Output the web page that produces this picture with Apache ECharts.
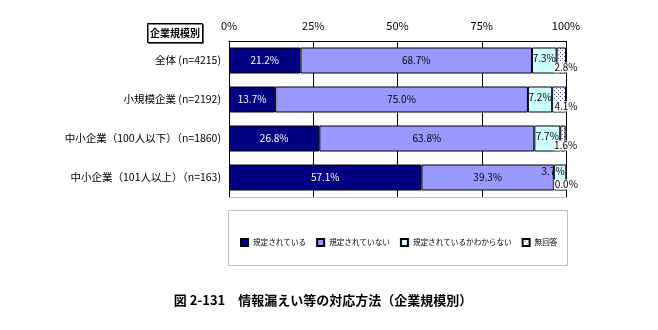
<!DOCTYPE html>
<html><head><meta charset="utf-8">
<script src="https://cdn.jsdelivr.net/npm/echarts@6/dist/echarts.min.js"></script>
<style>html,body{margin:0;padding:0;background:#fff}#c{width:658px;height:330px}</style>
</head><body><div id="c"></div>
<script>
const categories = ['全体 (n=4215)', '小規模企業 (n=2192)', '中小企業（100人以下）（n=1860)', '中小企業（101人以上）（n=163)'];
const seriesNames = ['規定されている', '規定されていない', '規定されているかわからない', '無回答'];
const s1 = [21.2, 13.7, 26.8, 57.1];
const s2 = [68.7, 75.0, 63.8, 39.3];
const s3 = [7.3, 7.2, 7.7, 3.7];
const s4 = [2.8, 4.1, 1.6, 0.0];
const tickValues = [0, 25, 50, 75, 100];

const FONT = '"Noto Sans CJK JP", sans-serif';
const cv = document.createElement('canvas');
cv.width = 4; cv.height = 4;
const cx = cv.getContext('2d');
cx.fillStyle = '#ffffff'; cx.fillRect(0, 0, 4, 4);
cx.fillStyle = '#5555aa'; cx.fillRect(0, 0, 1, 1); cx.fillRect(2, 2, 1, 1);
const pattern = { image: cv, repeat: 'repeat' };

const totals = s1.map((v, i) => +(v + s2[i] + s3[i] + s4[i]).toFixed(1));
const fmt = p => p.value.toFixed(1) + '%';
const chart = echarts.init(document.getElementById('c'), null, { renderer: 'canvas' });
const barBase = { type: 'bar', stack: 'total', barWidth: 26 };
chart.setOption({
  backgroundColor: '#fff',
  animation: false,
  textStyle: { fontFamily: FONT },
  grid: { left: 229, right: 92, top: 41, height: 156 },
  xAxis: [{
    type: 'value', position: 'top', min: 0, max: 100, interval: 25,
    axisLine: { show: true, lineStyle: { color: '#000', width: 1 } },
    axisTick: { show: false },
    axisLabel: { formatter: v => tickValues.includes(v) ? v + '%' : '', color: '#000', fontSize: 11, margin: 10, fontFamily: FONT },
    splitLine: { show: true, lineStyle: { color: '#000', width: 1 } }
  }, {
    type: 'value', position: 'bottom', min: 0, max: 100,
    axisLine: { show: true, lineStyle: { color: '#c0c0c0', width: 1 } },
    axisTick: { show: false }, axisLabel: { show: false }, splitLine: { show: false }
  }],
  yAxis: {
    type: 'category', data: categories, inverse: true,
    axisLine: { show: true, lineStyle: { color: '#000', width: 1 } },
    axisTick: { show: false },
    axisLabel: { color: '#000', fontSize: 10.5, margin: 8, fontFamily: FONT }
  },
  legend: {
    left: 235, top: 233, itemWidth: 7, itemHeight: 7, itemGap: 10, icon: 'rect',
    textStyle: { fontSize: 7.6, color: '#000', fontFamily: FONT },
    data: seriesNames
  },
  series: [
    Object.assign({}, barBase, {
      name: seriesNames[0], data: s1,
      itemStyle: { color: '#000080', borderColor: '#000', borderWidth: 1 },
      label: { show: true, position: 'inside', color: '#fff', fontSize: 10, formatter: fmt }
    }),
    Object.assign({}, barBase, {
      name: seriesNames[1], data: s2,
      itemStyle: { color: '#9999ff', borderColor: '#000', borderWidth: 1 },
      label: { show: true, position: 'inside', color: '#000', fontSize: 10, formatter: fmt }
    }),
    Object.assign({}, barBase, {
      name: seriesNames[2],
      data: s3.map(v => v < 5 ? { value: v, label: { offset: [-7, -6] } } : v),
      itemStyle: { color: '#ccffff', borderColor: '#000', borderWidth: 1 },
      label: { show: true, position: 'inside', offset: [0, -2], color: '#000', fontSize: 10, formatter: fmt }
    }),
    Object.assign({}, barBase, {
      name: seriesNames[3], data: s4,
      itemStyle: { color: pattern, borderColor: '#000', borderWidth: 1 },
      label: { show: false }
    }),
    {
      type: 'scatter', name: 'labels4', symbolSize: 1, clip: false,
      itemStyle: { color: 'rgba(0,0,0,0)', opacity: 1 },
      silent: true, z: 5,
      data: totals.map((t, i) => ({ value: [t, categories[i]], v4: s4[i] })),
      label: { show: true, position: 'inside', offset: [0, 7], backgroundColor: '#fff', padding: [0, 1],
        color: '#000', fontSize: 10, formatter: p => p.data.v4.toFixed(1) + '%' }
    }
  ],
  graphic: [
    { type: 'rect', shape: { x: 228.5, y: 210.5, width: 339, height: 55 }, style: { fill: 'none', stroke: '#bfbfbf', lineWidth: 1 }, z: -1 },
    { type: 'rect', shape: { x: 147.5, y: 23.5, width: 55, height: 19 }, style: { fill: '#fff', stroke: '#000', lineWidth: 1, shadowColor: 'rgba(0,0,0,0.5)', shadowOffsetX: 1, shadowOffsetY: 1 } },
    { type: 'text', x: 175, y: 33, style: { text: '企業規模別', font: 'bold 10px ' + FONT, fill: '#000', align: 'center', verticalAlign: 'middle' } },
    { type: 'text', x: 323, y: 300, style: { text: '図 2-131　情報漏えい等の対応方法（企業規模別）', font: 'bold 13px ' + FONT, fill: '#000', align: 'center', verticalAlign: 'middle' } }
  ]
});
</script></body></html>
